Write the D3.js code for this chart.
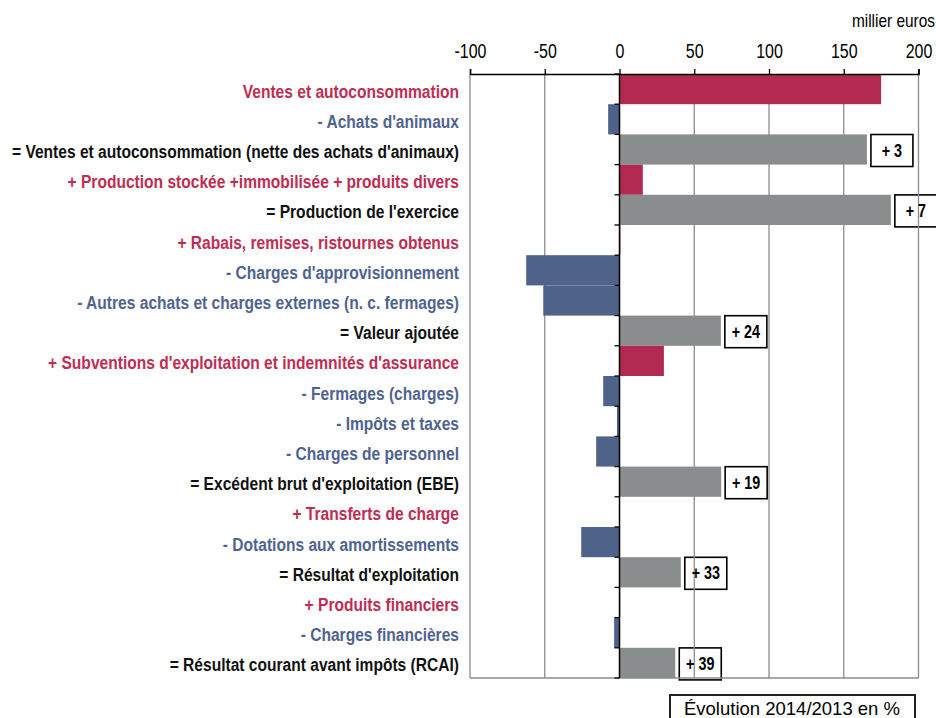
<!DOCTYPE html>
<html>
<head>
<meta charset="utf-8">
<script src="https://cdn.jsdelivr.net/npm/d3@7"></script>
<style>
  html, body { margin: 0; padding: 0; background: #fff; }
  svg { display: block; }
  text { font-family: "Liberation Sans", Arial, sans-serif; }
</style>
</head>
<body>
<svg id="chart" width="936" height="718"></svg>
<script>
// ---- data ----
const categories = [
  "Ventes et autoconsommation",
  "- Achats d'animaux",
  "= Ventes et autoconsommation (nette des achats d'animaux)",
  "+ Production stockée +immobilisée + produits divers",
  "= Production de l'exercice",
  "+ Rabais, remises, ristournes obtenus",
  "- Charges d'approvisionnement",
  "- Autres achats et charges externes (n. c. fermages)",
  "= Valeur ajoutée",
  "+ Subventions d'exploitation et indemnités d'assurance",
  "- Fermages (charges)",
  "- Impôts et taxes",
  "- Charges de personnel",
  "= Excédent brut d'exploitation (EBE)",
  "+ Transferts de charge",
  "- Dotations aux amortissements",
  "= Résultat d'exploitation",
  "+ Produits financiers",
  "- Charges financières",
  "= Résultat courant avant impôts (RCAI)"
];
const kinds = [
  "produit", "charge", "solde", "produit", "solde", "produit", "charge", "charge", "solde", "produit",
  "charge", "charge", "charge", "solde", "produit", "charge", "solde", "produit", "charge", "solde"
];
const values = [175, -7.6, 165.5, 15.6, 181.5, 0.6, -62.4, -51, 67.8, 29.7,
                -10.9, -1.7, -15.6, 68, 0, -25.6, 41, 0.5, -3.6, 37.3];
const evolution = [null, null, 3, null, 7, null, null, null, 24, null,
                   null, null, null, 19, null, null, 33, null, null, 39];
const xTicks = [-100, -50, 0, 50, 100, 150, 200];
const unitLabel = "millier euros";
const legendLabel = "Évolution 2014/2013 en %";

// ---- styles ----
const barColor = { produit: "#b22a52", charge: "#4f6289", solde: "#8a8d8d" };
const textColor = { produit: "#bf2d52", charge: "#4f6392", solde: "#111111" };
const SX = 0.82; // narrow-font look

const svg = d3.select("#chart");
const x = d3.scaleLinear().domain([-100, 200]).range([470, 918.5]);
const y = d3.scaleBand().domain(categories).range([74, 678]).paddingInner(0).paddingOuter(0);
const bw = y.bandwidth();

// evolution boxes (under grid lines)
const boxW = 42, boxH = 32;
const evo = categories.map((c, i) => ({ c, v: values[i], e: evolution[i] })).filter(d => d.e !== null);
svg.append("g").selectAll("rect").data(evo).join("rect")
  .attr("x", d => x(d.v) + 4)
  .attr("y", d => y(d.c) + bw / 2 - boxH / 2 + 1)
  .attr("width", boxW).attr("height", boxH)
  .attr("fill", "#fff").attr("stroke", "#000").attr("stroke-width", 1.6);

// vertical grid lines
svg.append("g").selectAll("line").data(xTicks.filter(t => t !== 0)).join("line")
  .attr("x1", d => x(d)).attr("x2", d => x(d))
  .attr("y1", 74).attr("y2", 678)
  .attr("stroke", "#8c8c8c").attr("stroke-width", 1.3);

// bottom border line
svg.append("line").attr("x1", x(-100)).attr("x2", x(200)).attr("y1", 678).attr("y2", 678)
  .attr("stroke", "#8c8c8c").attr("stroke-width", 1.5);

// bars
svg.append("g").selectAll("rect").data(categories).join("rect")
  .attr("x", (c, i) => x(Math.min(0, values[i])))
  .attr("y", c => y(c))
  .attr("width", (c, i) => Math.abs(x(values[i]) - x(0)))
  .attr("height", bw)
  .attr("fill", (c, i) => barColor[kinds[i]]);

// evolution texts
svg.append("g").selectAll("text").data(evo).join("text")
  .attr("transform", d => `translate(${x(d.v) + 4 + boxW / 2},${y(d.c) + bw / 2 + 7}) scale(${SX},1)`)
  .attr("text-anchor", "middle")
  .attr("font-size", 17.5).attr("font-weight", "bold").attr("fill", "#000")
  .text(d => "+ " + d.e);

// top axis
const axis = d3.axisTop(x).tickValues(xTicks).tickSize(5).tickPadding(11).tickFormat(d => String(d));
const ag = svg.append("g").attr("transform", "translate(0,74)").call(axis);
ag.select(".domain").attr("stroke", "#000").attr("stroke-width", 1.5);
ag.selectAll(".tick line").attr("stroke", "#000").attr("stroke-width", 1.3);
ag.selectAll(".tick text").attr("font-size", 19.5).attr("fill", "#000")
  .attr("transform", `scale(${SX},1)`)
  .style("font-family", "'Liberation Sans', Arial, sans-serif");

// zero axis with category ticks
svg.append("line").attr("x1", x(0)).attr("x2", x(0)).attr("y1", 74).attr("y2", 678)
  .attr("stroke", "#000").attr("stroke-width", 1.5);
svg.append("g").selectAll("line").data(categories.concat([null])).join("line")
  .attr("x1", x(0) - 5).attr("x2", x(0))
  .attr("y1", (c, i) => 74 + i * bw).attr("y2", (c, i) => 74 + i * bw)
  .attr("stroke", "#000").attr("stroke-width", 1.3);

// category labels
svg.append("g").selectAll("text").data(categories).join("text")
  .attr("transform", c => `translate(459,${y(c) + bw / 2 + 8.5}) scale(${SX},1)`)
  .attr("text-anchor", "end")
  .attr("font-size", 19).attr("font-weight", "bold")
  .attr("fill", (c, i) => textColor[kinds[i]])
  .text(c => c);

// unit label
svg.append("text").attr("transform", `translate(935,27) scale(${SX},1)`).attr("text-anchor", "end")
  .attr("font-size", 18.8).attr("fill", "#000").text(unitLabel);

// legend box
svg.append("rect").attr("x", 670).attr("y", 695).attr("width", 245).attr("height", 40)
  .attr("fill", "#fff").attr("stroke", "#222").attr("stroke-width", 2);
svg.append("text").attr("x", 792).attr("y", 714.5).attr("text-anchor", "middle")
  .attr("font-size", 18.5).attr("fill", "#000").text(legendLabel);
</script>
</body>
</html>
